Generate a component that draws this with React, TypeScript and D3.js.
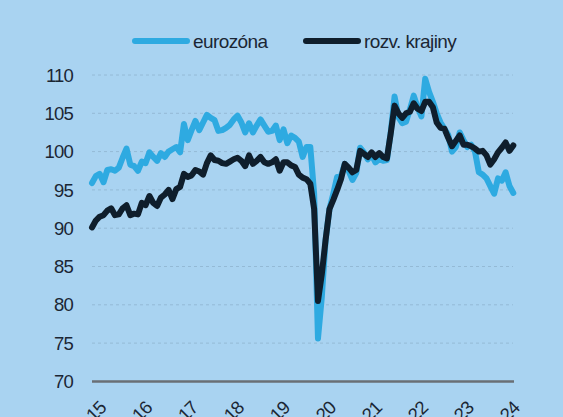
import React from "react";
import * as d3 from "d3";

const eurozona = [
  95.9, 96.8, 97.1, 96.0, 97.6, 97.7, 97.5, 97.9, 99.2, 100.4,
  98.3, 98.1, 97.5, 98.7, 98.5, 99.9, 99.3, 98.8, 99.8, 99.3,
  100.0, 100.3, 100.6, 99.9, 103.6, 101.5, 102.8, 104.0, 102.8, 103.8,
  104.8, 104.4, 104.1, 102.7, 102.8, 103.1, 103.5, 104.2, 104.7, 103.8,
  102.5, 103.7, 102.5, 103.4, 104.2, 103.4, 102.6, 102.7, 103.4, 101.5,
  102.9, 101.1, 102.1, 101.8, 101.3, 99.3, 100.6, 100.6, 94.5, 75.6,
  81.0, 88.5, 92.5, 94.5, 96.7, 96.8, 98.4, 97.5, 96.3, 97.2,
  100.5, 99.9, 99.0, 99.6, 98.6, 99.0, 98.8, 98.9, 102.5, 107.2,
  104.5, 103.7, 103.9, 105.5, 107.3, 105.8, 104.6, 109.5, 107.8, 106.5,
  105.0, 103.8, 103.0, 102.2, 100.0, 100.6, 102.5, 101.5, 100.6, 100.9,
  100.0, 97.3, 97.0, 96.5, 95.5, 94.5, 96.5, 96.2, 97.3, 95.5,
  94.6,
];

const rozvKrajiny = [
  90.1, 91.0, 91.5, 91.7, 92.3, 92.6, 91.7, 91.8, 92.6, 93.0,
  91.7, 91.9, 91.8, 93.3, 93.0, 94.2, 93.3, 92.9, 94.0, 94.4,
  95.0, 93.8, 95.1, 95.4, 97.1, 96.7, 96.9, 97.6, 97.4, 97.0,
  98.5, 99.5, 98.9, 98.8, 98.5, 98.4, 98.7, 99.0, 99.2, 98.8,
  98.1, 99.5, 98.4, 98.8, 99.3, 98.6, 98.4, 98.6, 99.0, 97.5,
  98.6, 98.6, 98.2, 98.0, 97.0, 96.6, 96.4, 95.8, 92.5, 80.5,
  84.0, 88.5, 92.5, 93.7, 95.0, 96.4, 98.4, 97.9, 97.3, 97.6,
  100.1, 99.7, 99.3, 99.9, 99.3, 99.8, 99.3, 99.1, 102.4, 106.0,
  105.0, 104.4, 105.0, 105.2, 106.3, 105.6, 105.3, 106.5, 106.5, 105.8,
  103.8, 103.1, 103.0, 101.8, 100.7, 101.4, 102.1, 100.9, 100.9, 100.7,
  100.4, 100.0, 100.1, 99.5, 98.3, 99.0, 99.9, 100.5, 101.2, 100.1,
  100.8,
];

const yTicks = [70, 75, 80, 85, 90, 95, 100, 105, 110];
const xTickIndex = [0, 12, 24, 36, 48, 60, 72, 84, 96, 108];
const xTickLabels = ["15", "16", "17", "18", "19", "20", "21", "22", "23", "24"];

const seriesNames = ["eurozóna", "rozv. krajiny"];
const seriesColors = ["#2eaae1", "#0f1e2c"];

const W = 563;
const H = 417;
const BG = "#a9d3f1";
const TEXT = "#1b2634";
const FONT = "'Liberation Sans', Arial, Helvetica, sans-serif";

export default function App() {
  const x = d3.scaleLinear().domain([0, eurozona.length - 1]).range([92, 513.3]);
  const y = d3.scaleLinear().domain([70, 110]).range([381.4, 75]);

  const line = d3
    .line<number>()
    .x((_, i) => x(i))
    .y((d) => y(d))
    .curve(d3.curveLinear);

  const series = [eurozona, rozvKrajiny];

  return (
    <svg
      width={W}
      height={H}
      style={{ position: "absolute", left: 0, top: 0, display: "block" }}
      fontFamily={FONT}
    >
      <rect x={0} y={0} width={W} height={H} fill={BG} />

      {yTicks
        .filter((t) => t !== 70)
        .map((t) => (
          <line
            key={t}
            x1={92}
            x2={513}
            y1={y(t)}
            y2={y(t)}
            stroke="#94bad6"
            strokeWidth={1}
            strokeDasharray="3,3"
          />
        ))}

      <line x1={92} x2={514} y1={y(70)} y2={y(70)} stroke="#6a6f75" strokeWidth={2.5} />

      {yTicks.map((t) => (
        <text
          key={t}
          x={73}
          y={y(t)}
          dy="0.36em"
          textAnchor="end"
          fontSize={18.5}
          letterSpacing={-0.8}
          fill={TEXT}
        >
          {t}
        </text>
      ))}

      {xTickIndex.map((idx, k) => (
        <text
          key={idx}
          transform={`translate(${x(idx) + 6},${400}) rotate(-45)`}
          textAnchor="end"
          dy="0.7em"
          fontSize={18.5}
          letterSpacing={-0.8}
          fill={TEXT}
        >
          {xTickLabels[k]}
        </text>
      ))}

      {series.map((s, i) => (
        <path
          key={i}
          d={line(s) || ""}
          fill="none"
          stroke={seriesColors[i]}
          strokeWidth={6}
          strokeLinejoin="round"
          strokeLinecap="round"
        />
      ))}

      <g>
        <line x1={135} x2={187} y1={41} y2={41} stroke={seriesColors[0]} strokeWidth={6} strokeLinecap="round" />
        <text x={193} y={48} fontSize={19} letterSpacing={-0.6} fill={TEXT}>
          {seriesNames[0]}
        </text>
        <line x1={306} x2={358} y1={41} y2={41} stroke={seriesColors[1]} strokeWidth={6} strokeLinecap="round" />
        <text x={364} y={48} fontSize={19} letterSpacing={-0.6} fill={TEXT}>
          {seriesNames[1]}
        </text>
      </g>
    </svg>
  );
}
